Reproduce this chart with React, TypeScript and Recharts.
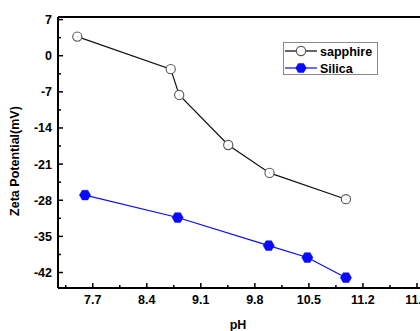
import React from 'react';
import { LineChart, Line, XAxis, YAxis, ReferenceLine, Legend, Label } from 'recharts';

const sapphirePH = [7.5, 8.71, 8.82, 9.455, 9.99, 10.98];
const sapphireZeta = [3.7, -2.6, -7.6, -17.3, -22.7, -27.8];
const silicaPH = [7.6, 8.8, 9.98, 10.48, 10.98];
const silicaZeta = [-27.0, -31.35, -36.8, -39.1, -43.0];

const xTicks = [7.35, 7.7, 8.05, 8.4, 8.75, 9.1, 9.45, 9.8, 10.15, 10.5, 10.85, 11.2, 11.55, 11.9, 12.25];
const xMajor = [7.7, 8.4, 9.1, 9.8, 10.5, 11.2, 11.9];
const yTicks = [7, 3.5, 0, -3.5, -7, -10.5, -14, -17.5, -21, -24.5, -28, -31.5, -35, -38.5, -42];
const yMajor = [7, 0, -7, -14, -21, -28, -35, -42];

const sapphireData = sapphirePH.map((x, i) => ({ x, y: sapphireZeta[i] }));
const silicaData = silicaPH.map((x, i) => ({ x, y: silicaZeta[i] }));

const FONT = '"Liberation Sans", Arial, sans-serif';
const BLUE = '#0a0aff';

const isMajor = (arr: number[], v: number) => arr.some((m) => Math.abs(m - v) < 1e-6);

const XTick = (props: any) => {
  const { x, y, payload } = props;
  const major = isMajor(xMajor, payload.value);
  return (
    <g>
      <line x1={x} x2={x} y1={y} y2={y - (major ? 5 : 3)} stroke="#000" strokeWidth={1.5} />
      {major && (
        <text x={x} y={y + 16} textAnchor="middle" fontFamily={FONT} fontWeight="bold" fontSize={12.5} fill="#000">
          {payload.value.toFixed(1)}
        </text>
      )}
    </g>
  );
};

const YTick = (props: any) => {
  const { x, y, payload } = props;
  const major = isMajor(yMajor, payload.value);
  return (
    <g>
      <line x1={x} x2={x + (major ? 5 : 3)} y1={y} y2={y} stroke="#000" strokeWidth={1.5} />
      {major && (
        <text x={x - 6} y={y + 4.5} textAnchor="end" fontFamily={FONT} fontWeight="bold" fontSize={12.5} fill="#000">
          {payload.value}
        </text>
      )}
    </g>
  );
};

const CircleDot = (props: any) => {
  const { cx, cy, index } = props;
  return (
    <g key={`c${index}`}>
      <circle cx={cx} cy={cy} r={4.6} fill="#fff" stroke="#555" strokeWidth={1.1} />
      <circle cx={cx} cy={cy} r={0.5} fill="#999" />
    </g>
  );
};

const hexPoints = (cx: number, cy: number, r: number) =>
  [0, 60, 120, 180, 240, 300]
    .map((a) => {
      const t = (a * Math.PI) / 180;
      return `${cx + r * Math.cos(t)},${cy + r * Math.sin(t)}`;
    })
    .join(' ');

const HexDot = (props: any) => {
  const { cx, cy, index } = props;
  return <polygon key={`h${index}`} points={hexPoints(cx, cy, 5.6)} fill={BLUE} stroke={BLUE} strokeWidth={0.5} />;
};

const LegendBox = () => (
  <div
    style={{
      width: 95,
      height: 33,
      border: '1px solid #888',
      boxSizing: 'border-box',
      background: '#fff',
      position: 'relative',
    }}
  >
    <svg width={95} height={33} style={{ position: 'absolute', left: -1, top: -1 }}>
      <line x1={2} x2={34} y1={9} y2={9} stroke="#000" strokeWidth={1.2} />
      <circle cx={18} cy={9} r={4.6} fill="#fff" stroke="#555" strokeWidth={1.1} />
      <text x={37} y={13.5} fontFamily={FONT} fontWeight="bold" fontSize={12.5} fill="#000">sapphire</text>
      <line x1={2} x2={34} y1={26} y2={26} stroke={BLUE} strokeWidth={1.2} />
      <polygon points={hexPoints(18, 26, 5.6)} fill={BLUE} />
      <text x={37} y={30.5} fontFamily={FONT} fontWeight="bold" fontSize={12.5} fill="#000">Silica</text>
    </svg>
  </div>
);

export default function App() {
  return (
    <div style={{ position: 'fixed', left: 0, top: 0, width: 420, height: 331, overflow: 'hidden', background: '#fff' }}>
      <LineChart width={470} height={331} margin={{ top: 17, right: 26, bottom: 0, left: 0 }}>
        <XAxis
          type="number"
          dataKey="x"
          domain={[7.25, 12.25]}
          ticks={xTicks}
          interval={0}
          allowDataOverflow
          height={43}
          axisLine={{ stroke: '#000', strokeWidth: 2 }}
          tickLine={false}
          tickSize={0}
          tickMargin={0}
          tick={XTick}
        >
          <Label
            content={() => (
              <text x={238} y={329} textAnchor="middle" fontFamily={FONT} fontWeight="bold" fontSize={12.5} fill="#000">
                pH
              </text>
            )}
          />
        </XAxis>
        <YAxis
          type="number"
          dataKey="y"
          domain={[-45, 7.5]}
          ticks={yTicks}
          interval={0}
          allowDataOverflow
          width={58}
          axisLine={{ stroke: '#000', strokeWidth: 2 }}
          tickLine={false}
          tickSize={0}
          tickMargin={0}
          tick={YTick}
        >
          <Label
            content={() => (
              <text
                x={19}
                y={161}
                transform="rotate(-90 19 161)"
                textAnchor="middle"
                fontFamily={FONT}
                fontWeight="bold"
                fontSize={12.5}
                fill="#000"
              >
                Zeta Potential(mV)
              </text>
            )}
          />
        </YAxis>
        <ReferenceLine y={7.5} stroke="#000" strokeWidth={2} />
        <Legend
          layout="horizontal"
          verticalAlign="middle"
          align="center"
          content={LegendBox}
          wrapperStyle={{ position: 'absolute', left: 283, top: 42, width: 95, height: 33 }}
        />
        <Line
          data={sapphireData}
          dataKey="y"
          name="sapphire"
          stroke="#111"
          strokeWidth={1.2}
          dot={CircleDot}
          activeDot={false}
          isAnimationActive={false}
        />
        <Line
          data={silicaData}
          dataKey="y"
          name="Silica"
          stroke={BLUE}
          strokeWidth={1.2}
          dot={HexDot}
          activeDot={false}
          isAnimationActive={false}
        />
      </LineChart>
    </div>
  );
}
